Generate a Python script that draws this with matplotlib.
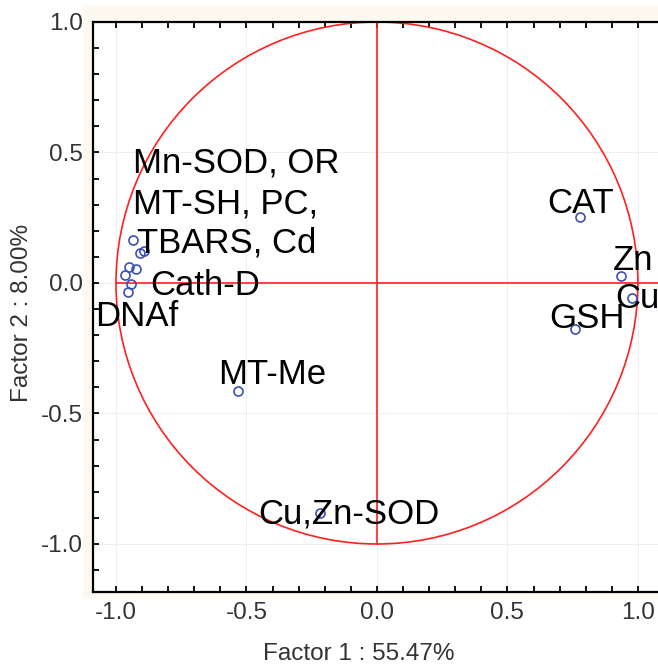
import numpy as np
import matplotlib.pyplot as plt
from matplotlib.patches import Circle, Rectangle
from matplotlib.ticker import MultipleLocator

plt.rcParams["font.family"] = ["Liberation Sans", "DejaVu Sans"]

# factor loadings (Factor 1, Factor 2)
f1 = [-0.933, -0.908, -0.891, -0.949, -0.923, -0.966, -0.944, -0.953,
      0.778, 0.937, 0.976, 0.759, -0.533, -0.218]
f2 = [0.165, 0.114, 0.123, 0.062, 0.052, 0.031, -0.004, -0.036,
      0.254, 0.028, -0.059, -0.176, -0.414, -0.882]

labels = ["Mn-SOD, OR", "MT-SH, PC,", "TBARS, Cd", "Cath-D", "DNAf",
          "CAT", "Zn", "Cu", "GSH", "MT-Me", "Cu,Zn-SOD"]
label_x = [-0.935, -0.935, -0.92, -0.870, -1.08,
           0.651, 0.906, 0.914, 0.660, -0.608, -0.455]
label_y = [0.461, 0.303, 0.153, -0.008, -0.129,
           0.305, 0.088, -0.059, -0.135, -0.352, -0.885]

W, H = 658, 664
fig = plt.figure(figsize=(W / 100, H / 100), dpi=100)
fig.patch.set_facecolor("white")

# beige panel behind the plot
fig.patches.append(Rectangle((83 / W, (H - 599) / H), (W - 83) / W, 594 / H,
                             transform=fig.transFigure, facecolor="#fdf9f0",
                             edgecolor="none", zorder=-5))

ax = fig.add_axes([93 / W, (H - 592) / H, (664 - 93) / W, 570 / H])
ax.set_facecolor("white")
ax.set_xlim(-1.088, 1.1)
ax.set_ylim(-1.184, 1.0)

ax.xaxis.set_major_locator(MultipleLocator(0.5))
ax.yaxis.set_major_locator(MultipleLocator(0.5))
ax.xaxis.set_minor_locator(MultipleLocator(0.1))
ax.yaxis.set_minor_locator(MultipleLocator(0.1))
ax.tick_params(which="both", direction="in", top=True, right=True,
               length=4, width=1.3, color="black")
ax.tick_params(labelsize=17.5, labelcolor="#333333")
ax.tick_params(axis="x", pad=7.5)
ax.tick_params(axis="y", pad=7)
ax.xaxis.set_major_formatter(plt.FuncFormatter(lambda v, p: f"{v:.1f}"))
ax.yaxis.set_major_formatter(plt.FuncFormatter(lambda v, p: f"{v:.1f}"))
ax.grid(True, which="major", color="#efefef", lw=0.8)
ax.set_axisbelow(True)
for s in ax.spines.values():
    s.set_linewidth(1.6)
    s.set_color("black")

# unit circle and axes lines
ax.add_patch(Circle((0, 0), 1.0, fill=False, edgecolor="#ff2020", lw=1.2, zorder=2))
ax.plot([0, 0], [-1, 1], color="#ff2020", lw=1.2, zorder=2)
ax.plot([-1, 1.1], [0, 0], color="#ff2020", lw=1.2, zorder=2)

ax.plot(f1, f2, "o", mfc="none", mec="#3a4fb5", mew=1.2, ms=6.5, zorder=3)

for t, x, y in zip(labels, label_x, label_y):
    ax.text(x, y, t, fontsize=25, color="black", ha="left", va="center", zorder=4)

fig.text(359 / W, 1 - 660 / H, "Factor 1 : 55.47%", fontsize=17.5,
         color="#333333", ha="center", va="baseline")
fig.text(22 / W, 1 - 313 / H, "Factor 2 : 8.00%", fontsize=17.5,
         color="#333333", ha="center", va="center", rotation=90)

fig.savefig("out.png", dpi=100)
